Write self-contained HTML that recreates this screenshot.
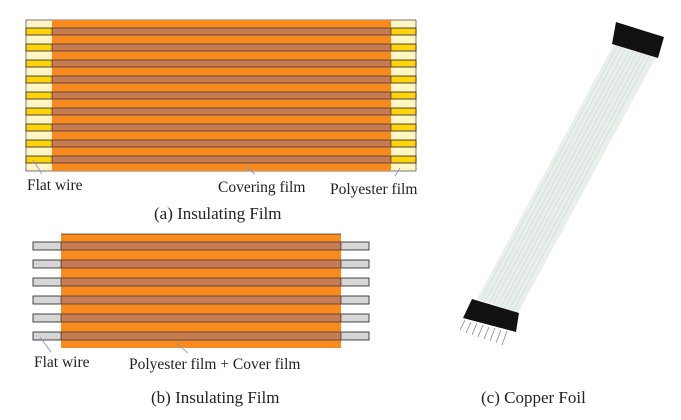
<!DOCTYPE html>
<html><head><style>
html,body{margin:0;padding:0;background:#fff;}
svg{display:block;}
text{font-family:"Liberation Serif",serif;font-size:15.5px;fill:#222;}
text.cap{font-size:17px;}
</style></head><body>
<svg width="681" height="420" viewBox="0 0 681 420" xmlns="http://www.w3.org/2000/svg">
<!-- Panel a -->
<rect x="26" y="20" width="390" height="151" fill="#fff6c4" stroke="#555" stroke-width="0.8"/>
<g stroke="#222" stroke-width="0.8" fill="#ffd20a">
<rect x="26" y="28" width="390" height="7"/>
<rect x="26" y="44" width="390" height="7"/>
<rect x="26" y="60" width="390" height="7"/>
<rect x="26" y="76" width="390" height="7"/>
<rect x="26" y="92" width="390" height="7"/>
<rect x="26" y="108" width="390" height="7"/>
<rect x="26" y="124" width="390" height="7"/>
<rect x="26" y="140" width="390" height="7"/>
<rect x="26" y="156" width="390" height="7"/>
</g>
<rect x="52" y="20" width="339" height="151" fill="#f98a1f"/>
<g fill="#c77c52" stroke="#333" stroke-width="0.7">
<rect x="52" y="28" width="339" height="7"/>
<rect x="52" y="44" width="339" height="7"/>
<rect x="52" y="60" width="339" height="7"/>
<rect x="52" y="76" width="339" height="7"/>
<rect x="52" y="92" width="339" height="7"/>
<rect x="52" y="108" width="339" height="7"/>
<rect x="52" y="124" width="339" height="7"/>
<rect x="52" y="140" width="339" height="7"/>
<rect x="52" y="156" width="339" height="7"/>
</g>
<g stroke="#8a8ad8" stroke-width="0.8">
<line x1="33" y1="160" x2="42" y2="174"/>
<line x1="245" y1="166" x2="255" y2="174"/>
<line x1="400" y1="168" x2="395" y2="176"/>
</g>
<text x="27" y="190">Flat wire</text>
<text x="218" y="192">Covering film</text>
<text x="330" y="194">Polyester film</text>
<text class="cap" x="154" y="219">(a) Insulating Film</text>
<!-- Panel b -->
<g fill="#d6d6d6" stroke="#333" stroke-width="0.9">
<rect x="33" y="242" width="336" height="8"/>
<rect x="33" y="260" width="336" height="8"/>
<rect x="33" y="278" width="336" height="8"/>
<rect x="33" y="296" width="336" height="8"/>
<rect x="33" y="314" width="336" height="8"/>
<rect x="33" y="332" width="336" height="8"/>
</g>
<rect x="61" y="234" width="280" height="114" fill="#f98a1f"/>
<line x1="61" y1="234" x2="341" y2="234" stroke="#333" stroke-width="0.8"/>
<g fill="#c77c52" stroke="#333" stroke-width="0.7">
<rect x="61" y="242" width="280" height="8"/>
<rect x="61" y="260" width="280" height="8"/>
<rect x="61" y="278" width="280" height="8"/>
<rect x="61" y="296" width="280" height="8"/>
<rect x="61" y="314" width="280" height="8"/>
<rect x="61" y="332" width="280" height="8"/>
</g>
<g stroke="#8a8ad8" stroke-width="0.8">
<line x1="40" y1="337" x2="51" y2="352"/>
<line x1="176" y1="343" x2="188" y2="353"/>
</g>
<text x="34" y="367">Flat wire</text>
<text x="129" y="369">Polyester film + Cover film</text>
<text class="cap" x="151" y="403">(b) Insulating Film</text>
<!-- Panel c -->
<polygon points="614,44 656,57 518,313 477,299" fill="#e9efea"/>
<g stroke="#cfdcd2" stroke-width="0.7">
<line x1="618" y1="45" x2="481" y2="300"/>
<line x1="622" y1="46" x2="485" y2="302"/>
<line x1="626" y1="48" x2="489" y2="303"/>
<line x1="630" y1="49" x2="493" y2="304"/>
<line x1="634" y1="50" x2="497" y2="306"/>
<line x1="638" y1="51" x2="501" y2="307"/>
<line x1="642" y1="53" x2="505" y2="308"/>
<line x1="646" y1="54" x2="509" y2="310"/>
<line x1="650" y1="55" x2="513" y2="311"/>
</g>
<polygon points="616,22 664,37 658,58 612,44" fill="#111"/>
<polygon points="472,299 519,313 516,332 463,318" fill="#111"/>
<g stroke="#888" stroke-width="0.8">
<line x1="465" y1="320" x2="460" y2="330"/>
<line x1="471" y1="322" x2="466" y2="333"/>
<line x1="477" y1="323" x2="472" y2="335"/>
<line x1="483" y1="325" x2="478" y2="337"/>
<line x1="489" y1="327" x2="484" y2="339"/>
<line x1="495" y1="328" x2="490" y2="341"/>
<line x1="501" y1="330" x2="496" y2="343"/>
<line x1="507" y1="331" x2="502" y2="345"/>
</g>
<text class="cap" x="481" y="403">(c) Copper Foil</text>
</svg>
</body></html>
